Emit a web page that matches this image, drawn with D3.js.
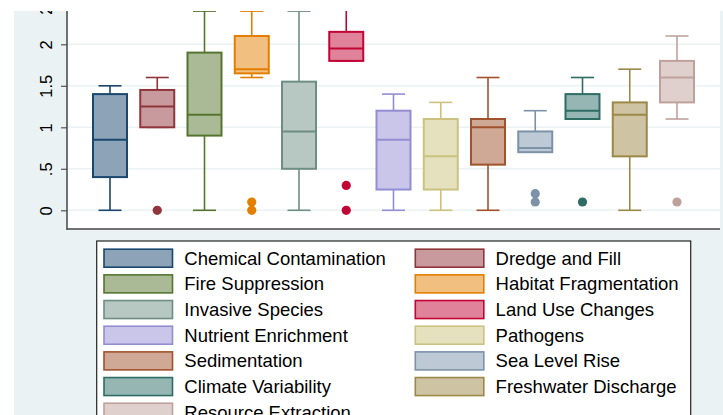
<!DOCTYPE html>
<html>
<head>
<meta charset="utf-8">
<script src="https://cdn.jsdelivr.net/npm/d3@7"></script>
<style>
  body{margin:0;background:#fff;}
  svg text{font-family:"Liberation Sans",Arial,sans-serif;}
</style>
</head>
<body>
<div id="chart"></div>
<script>
// categories in plotting / legend order
const categorias = ['Chemical Contamination','Dredge and Fill','Fire Suppression','Habitat Fragmentation',
  'Invasive Species','Land Use Changes','Nutrient Enrichment','Pathogens','Sedimentation',
  'Sea Level Rise','Climate Variability','Freshwater Discharge','Resource Extraction'];
// box stats
const bigodeInf = [0, 1.0, 0, 1.6, 0, 1.8, 0, 0, 0, 0.7, 1.1, 0, 1.1];
const q1        = [0.4, 1.0, 0.9, 1.65, 0.5, 1.8, 0.25, 0.25, 0.55, 0.7, 1.1, 0.65, 1.3];
const mediana   = [0.85, 1.25, 1.15, 1.7, 0.95, 1.95, 0.85, 0.65, 1.0, 0.75, 1.2, 1.15, 1.6];
const q3        = [1.4, 1.45, 1.9, 2.1, 1.55, 2.15, 1.2, 1.1, 1.1, 0.95, 1.4, 1.3, 1.8];
const bigodeSup = [1.5, 1.6, 2.4, 2.4, 2.4, 2.6, 1.4, 1.3, 1.6, 1.2, 1.6, 1.7, 2.1];
const outliers  = [[], [0], [], [0, 0.1], [], [0, 0.3], [], [], [], [0.1, 0.2], [0.1], [], [0.1]];
const yTicks = [0, 0.5, 1, 1.5, 2, 2.5];
const yTickLabels = ['0', '.5', '1', '1.5', '2', '2.5'];
// stata s2color palette
const cores = ['#1a476f','#90353b','#55752f','#e37e00','#6e8e84','#c10534','#938dd2',
  '#cac27e','#a0522d','#7b92a8','#2d6d66','#9c8847','#bfa19c'];

const W=723,H=415;
const svg=d3.select('#chart').append('svg').attr('width',W).attr('height',H);
const bg='#eaf2f3';
svg.append('rect').attr('x',0).attr('y',0).attr('width',W).attr('height',H).attr('fill','#fff');
svg.append('rect').attr('x',14).attr('y',0).attr('width',W-14).attr('height',H).attr('fill',bg);

const pl=67,pr=720,pb=229;
svg.append('rect').attr('x',pl).attr('y',0).attr('width',pr-pl).attr('height',pb).attr('fill','#fff');

const x=d3.scalePoint().domain(categorias).range([110,677]);
const y=d3.scaleLinear().domain([0,2.5]).range([210.3,2.8]);
const bw=34, cw=23;

// grid
svg.append('g').selectAll('line').data(yTicks).join('line')
  .attr('x1',pl).attr('x2',pr).attr('y1',d=>y(d)).attr('y2',d=>y(d))
  .attr('stroke',bg).attr('stroke-width',1.5);

// boxes
const g=svg.append('g');
categorias.forEach((c,i)=>{
  const cx=x(c), col=cores[i];
  const b=g.append('g');
  b.append('line').attr('x1',cx).attr('x2',cx).attr('y1',y(q3[i])).attr('y2',y(bigodeSup[i]))
    .attr('stroke',col).attr('stroke-width',1.6);
  b.append('line').attr('x1',cx).attr('x2',cx).attr('y1',y(q1[i])).attr('y2',y(bigodeInf[i]))
    .attr('stroke',col).attr('stroke-width',1.6);
  [bigodeSup[i],bigodeInf[i]].forEach(v=>{
    b.append('line').attr('x1',cx-cw/2).attr('x2',cx+cw/2).attr('y1',y(v)).attr('y2',y(v))
      .attr('stroke',col).attr('stroke-width',1.6);
  });
  b.append('rect').attr('x',cx-bw/2).attr('y',y(q3[i])).attr('width',bw).attr('height',y(q1[i])-y(q3[i]))
    .attr('fill',d3.interpolateRgb(col,'#fff')(0.5)).attr('stroke',col).attr('stroke-width',2);
  b.append('line').attr('x1',cx-bw/2).attr('x2',cx+bw/2).attr('y1',y(mediana[i])).attr('y2',y(mediana[i]))
    .attr('stroke',col).attr('stroke-width',2);
  b.selectAll('circle').data(outliers[i]).join('circle')
    .attr('cx',cx).attr('cy',d=>y(d)).attr('r',4.6).attr('fill',col);
});

// axes
const ax=svg.append('g').attr('transform',`translate(${pl},0)`)
  .call(d3.axisLeft(y).tickValues(yTicks).tickSize(6).tickFormat((d,i)=>yTickLabels[i]));
ax.select('.domain').remove();
ax.selectAll('.tick line').attr('stroke','#555').attr('stroke-width',1.2);
ax.selectAll('.tick text').attr('x',0).attr('dy',0).attr('font-size',16.5).attr('fill','#000')
  .attr('text-anchor','middle').attr('transform','translate(-15.5,0) rotate(-90)');
svg.append('line').attr('x1',pl).attr('x2',pl).attr('y1',0).attr('y2',pb+1).attr('stroke','#444').attr('stroke-width',1.5);
svg.append('line').attr('x1',pl).attr('x2',pr).attr('y1',pb).attr('y2',pb).attr('stroke','#444').attr('stroke-width',1.5);

// legend
const lg=svg.append('g');
lg.append('rect').attr('x',96.7).attr('y',241).attr('width',594).attr('height',200)
  .attr('fill','#fff').attr('stroke','#222').attr('stroke-width',1.2);
categorias.forEach((c,i)=>{
  const col=i%2, row=Math.floor(i/2);
  const sx=col?415.3:104, cy=258.2+row*25.67;
  lg.append('rect').attr('x',sx).attr('y',cy-9).attr('width',68.5).attr('height',18)
    .attr('fill',d3.interpolateRgb(cores[i],'#fff')(0.5)).attr('stroke',cores[i]).attr('stroke-width',1.6);
  lg.append('text').attr('x',sx+80.3).attr('y',cy+6.6).attr('font-size',18.5).attr('fill','#000').text(c);
});

// white margin the picture was cut with
svg.append('rect').attr('x',0).attr('y',0).attr('width',W).attr('height',11).attr('fill','#fff');
svg.append('rect').attr('x',0).attr('y',0).attr('width',14).attr('height',H).attr('fill','#fff');
</script>
</body>
</html>
